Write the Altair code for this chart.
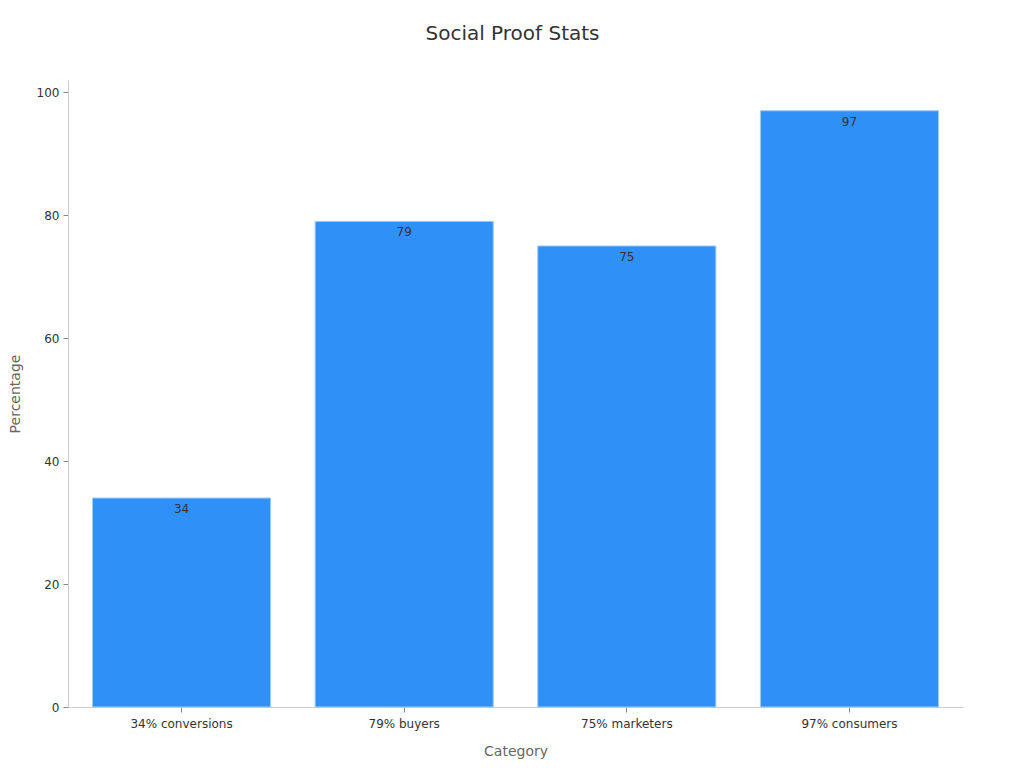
import altair as alt
import pandas as pd

categories = ["34% conversions", "79% buyers", "75% marketers", "97% consumers"]
values = [34, 79, 75, 97]

df = pd.DataFrame({"Category": categories, "Percentage": values})

base = alt.Chart(df).encode(
    x=alt.X("Category:N", sort=categories,
            scale=alt.Scale(paddingInner=0.2, paddingOuter=0.11),
            axis=alt.Axis(labelAngle=0, title="Category", titlePadding=15, labelPadding=6)),
    y=alt.Y("Percentage:Q", scale=alt.Scale(domain=[0, 102], nice=False),
            axis=alt.Axis(values=[0, 20, 40, 60, 80, 100], title="Percentage",
                          titlePadding=14, grid=False)),
)

bars = base.mark_bar(color="#2f91f8", stroke="#9ccbfa", strokeWidth=1)
labels = base.mark_text(baseline="top", dy=6, fontSize=12, color="#333333",
                        font="DejaVu Sans").encode(text="Percentage:Q")

chart = (bars + labels).properties(
    width=895, height=627,
    title=alt.TitleParams("Social Proof Stats", fontSize=20, font="DejaVu Sans",
                          fontWeight="normal", color="#333333", offset=36, anchor="middle",
                          dx=-3),
    autosize=alt.AutoSizeParams(type="none"),
    padding={"left": 60, "top": 72, "right": 53, "bottom": 53},
).configure_axis(
    labelFont="DejaVu Sans", labelFontSize=12, labelColor="#333333",
    titleFont="DejaVu Sans", titleFontSize=14, titleColor="#666666",
    titleFontWeight="normal",
    domainColor="#cccccc", tickColor="#888888", tickSize=5, labelPadding=4,
).configure_view(stroke=None)

chart.save("out.html", embed_options={"renderer": "svg", "actions": False})
